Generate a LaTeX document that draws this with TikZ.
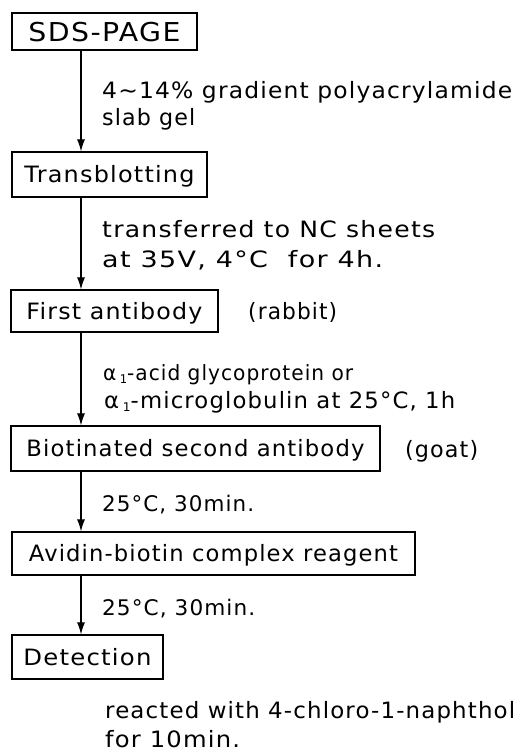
\documentclass[tikz,border=0pt]{standalone}
\usepackage{fontspec}
\setmainfont[LetterSpace=5]{DejaVu Sans}
\usetikzlibrary{arrows.meta}
\newcommand{\fw}[2]{\resizebox{#1pt}{\height}{#2}}
\newcommand{\alphaone}{α\,\raisebox{-0.3ex}{\fontsize{12}{12}\selectfont 1}}
\begin{document}
\begin{tikzpicture}[x=1pt,y=-1pt,
  font=\fontsize{22.5}{27}\selectfont,
  box/.style={draw, line width=1.2pt, inner sep=0pt, text height=16.4pt, text depth=0pt},
  lbl/.style={anchor=base west, inner sep=0pt},
  arr/.style={line width=1.1pt, -{Latex[length=12pt,width=8pt]}}]
\useasboundingbox (0,0) rectangle (519,755);
% boxes
\node[box, minimum width=185pt, minimum height=37pt, font=\fontsize{26}{30}\selectfont, text height=19pt] (sds) at (104.5,31.5) {\fw{152}{SDS-PAGE}};
\node[box, minimum width=195pt, minimum height=45pt] (trans) at (109.5,174.5) {\fw{170}{Transblotting}};
\node[box, minimum width=207pt, minimum height=42pt] (first) at (114.5,311) {\fw{176}{First antibody}};
\node[box, minimum width=369pt, minimum height=45pt] (second) at (195.5,448.5) {\fw{338}{Biotinated second antibody}};
\node[box, minimum width=403pt, minimum height=43pt] (avidin) at (213.5,553.5) {\fw{369}{Avidin-biotin complex reagent}};
\node[box, minimum width=151pt, minimum height=44pt] (detect) at (87.5,657) {\fw{128}{Detection}};
% side notes
\node[lbl] (rabbit) at (248,319) {\fw{89}{(rabbit)}};
\node[lbl] (goat) at (405,457) {\fw{73}{(goat)}};
% step labels
\node[lbl] (l1a) at (102,98) {\fw{410}{4∼14\% gradient polyacrylamide}};
\node[lbl] (l1b) at (102,125) {\fw{93}{slab gel}};
\node[lbl] (l2a) at (102,237) {\fw{333}{transferred to NC sheets}};
\node[lbl] (l2b) at (102,267) {\fw{281}{at 35V, 4°C\ \ for 4h.}};
\node[lbl, font=\fontsize{21}{25}\selectfont] (l3a) at (103,380) {\fw{250}{\alphaone-acid glycoprotein or}};
\node[lbl] (l3b) at (104,408) {\fw{351}{\alphaone-microglobulin at 25°C, 1h}};
\node[lbl, font=\fontsize{21.5}{25}\selectfont] (l4) at (102,511) {\fw{152}{25°C, 30min.}};
\node[lbl, font=\fontsize{21.5}{25}\selectfont] (l5) at (102,615) {\fw{153}{25°C, 30min.}};
\node[lbl] (l6a) at (105,718) {\fw{410}{reacted with 4-chloro-1-naphthol}};
\node[lbl] (l6b) at (105,747) {\fw{135}{for 10min.}};
% connectors
\coordinate (ax) at (81,0);
\draw[arr] (sds.south -| ax) -- (trans.north -| ax);
\draw[arr] (trans.south -| ax) -- (first.north -| ax);
\draw[arr] (first.south -| ax) -- (second.north -| ax);
\draw[arr] (second.south -| ax) -- (avidin.north -| ax);
\draw[arr] (avidin.south -| ax) -- (detect.north -| ax);
\end{tikzpicture}
\end{document}
